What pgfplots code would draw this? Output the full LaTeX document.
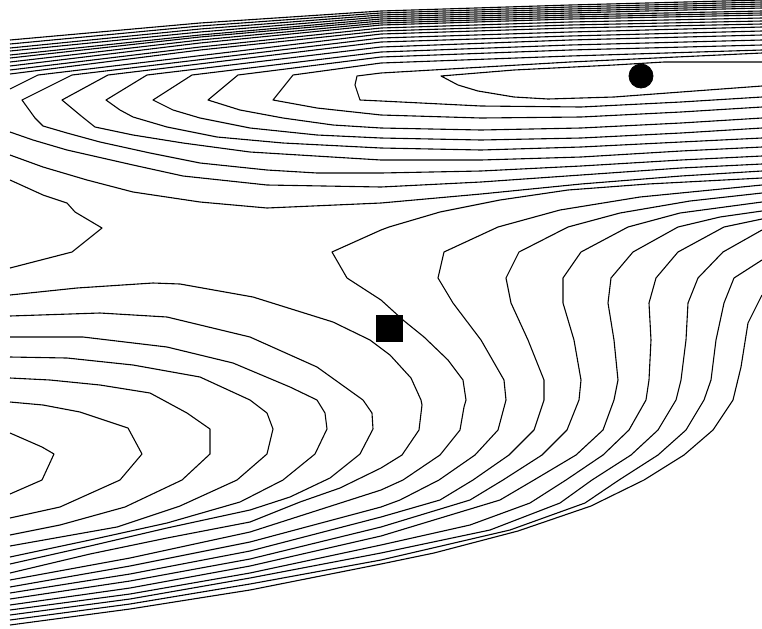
\documentclass[border=0pt]{standalone}
\usepackage{pgfplots}
\pgfplotsset{compat=1.18}
\begin{document}
\begin{tikzpicture}
\begin{axis}[width=381pt,height=314pt,scale only axis,
  xmin=0,xmax=762,ymin=0,ymax=628,y dir=reverse,hide axis,clip=true,
  cl/.style={black,line width=0.55pt,mark=none,line join=round}]
% ---- family A (around the circle) ----
\addplot[cl] coordinates {(762,62)(664,62)(614,65)(514,70)(441,76)(458,85)(478,91)(514,97)(548,99)(614,97)(681,92)(762,86)};
\addplot[cl] coordinates {(762,53)(570,62)(381,73)(357,76)(355,85)(360,100)(381,101)(481,106)(581,107)(681,102)(762,97)};
\addplot[cl] coordinates {(762,50)(570,56)(381,63)(293,75)(273,100)(317,108)(381,115)(481,118)(581,117)(681,112)(762,107)};
\addplot[cl] coordinates {(762,45)(570,50)(381,57)(238,75)(208,100)(240,110)(283,118)(333,125)(381,128)(481,130)(581,128)(681,123)(762,118)};
\addplot[cl] coordinates {(762,40)(570,45)(381,52)(192,75)(153,100)(173,110)(200,118)(250,128)(317,135)(381,138)(481,140)(581,138)(681,133)(762,128)};
\addplot[cl] coordinates {(762,35)(570,40)(381,47)(147,75)(106,100)(120,110)(133,117)(167,127)(217,137)(283,143)(381,148)(481,150)(581,147)(681,142)(762,138)};
\addplot[cl] coordinates {(762,31)(570,36)(381,42)(108,75)(62,100)(80,115)(95,127)(133,135)(183,143)(250,152)(381,160)(481,160)(581,157)(681,151)(762,147)};
\addplot[cl] coordinates {(762,27)(570,32)(381,38)(72,75)(22,100)(35,118)(43,126)(67,133)(100,142)(150,153)(200,163)(267,170)(317,173)(381,173)(481,171)(581,166)(681,160)(762,156)};
\addplot[cl] coordinates {(762,24)(570,28)(381,34)(38,75)(10,89)};
% ---- top band ----
\addplot[cl] coordinates {(10,74)(200,50)(381,31)(570,25)(762,21)};
\addplot[cl] coordinates {(10,70)(200,47)(381,28)(570,22)(762,18)};
\addplot[cl] coordinates {(10,66)(200,43)(381,25)(570,19)(762,15)};
\addplot[cl] coordinates {(10,62)(200,40)(381,23)(570,17)(762,13)};
\addplot[cl] coordinates {(10,58)(200,37)(381,21)(570,15)(762,11)};
\addplot[cl] coordinates {(10,55)(200,35)(381,19)(570,13)(762,8)};
\addplot[cl] coordinates {(10,51)(200,32)(381,17)(570,11)(762,6)};
\addplot[cl] coordinates {(10,48)(200,29)(381,15)(570,9)(762,4)};
\addplot[cl] coordinates {(10,44)(200,26)(381,13)(570,7)(762,2)};
\addplot[cl] coordinates {(10,40)(200,23)(381,11)(570,5)(762,0)};
% ---- A10, A11, saddle ----
\addplot[cl] coordinates {(10,132)(33,140)(67,150)(133,165)(183,176)(267,185)(381,187)(481,182)(581,175)(681,168)(762,164)};
\addplot[cl] coordinates {(10,155)(43,167)(87,180)(133,192)(200,202)(267,208)(381,203)(481,194)(581,184)(681,176)(762,171)};
\addplot[cl] coordinates {(10,180)(43,195)(67,203)(75,212)(102,228)(72,252)(10,268)};
% ---- family B (left hill) ----
\addplot[cl] coordinates {(10,433)(42,447)(54,454)(42,480)(10,494)};
\addplot[cl] coordinates {(10,402)(43,405)(80,412)(128,428)(142,454)(120,480)(60,507)(10,518)};
\addplot[cl] coordinates {(10,378)(50,380)(100,385)(150,393)(163,400)(187,413)(210,429)(210,454)(182,480)(125,507)(60,525)(10,535)};
\addplot[cl] coordinates {(10,357)(67,358)(133,365)(200,377)(250,400)(267,413)(273,429)(267,454)(237,480)(180,506)(117,527)(10,546)};
\addplot[cl] coordinates {(10,337)(83,337)(167,347)(233,363)(290,387)(317,400)(325,413)(327,429)(315,454)(283,480)(240,502)(167,523)(90,540)(10,557)};
\addplot[cl] coordinates {(10,316)(100,313)(167,317)(250,337)(317,367)(363,400)(372,413)(373,429)(360,454)(330,478)(290,497)(250,510)(167,528)(90,546)(10,564)};
\addplot[cl] coordinates {(10,295)(77,288)(153,283)(180,284)(253,297)(333,322)(370,340)(390,355)(411,378)(421,400)(422,405)(419,430)(402,455)(381,468)(340,488)(300,502)(250,522)(167,538)(90,554)(10,573)};
% ---- family R (right valley) ----
\addplot[cl] coordinates {(762,178)(648,184)(568,190)(500,200)(440,212)(389,227)(381,230)(332,252)(347,278)(381,300)(403,320)(424,337)(448,360)(463,380)(466,400)(464,407)(460,430)(440,455)(403,480)(381,490)(250,532)(130,558)(10,580)};
\addplot[cl] coordinates {(762,185)(640,197)(560,210)(498,227)(444,252)(438,278)(453,303)(481,340)(504,380)(506,400)(498,430)(475,455)(439,480)(400,500)(381,507)(250,542)(130,566)(10,587)};
\addplot[cl] coordinates {(762,193)(690,201)(620,213)(568,227)(519,252)(506,278)(511,303)(528,340)(544,380)(544,400)(534,430)(509,455)(473,480)(440,500)(381,517)(250,551)(130,574)(10,593)};
\addplot[cl] coordinates {(762,202)(680,213)(628,227)(581,252)(563,278)(563,303)(574,340)(581,380)(579,400)(567,430)(542,455)(503,480)(470,500)(381,527)(250,559)(130,581)(10,599)};
\addplot[cl] coordinates {(762,211)(720,217)(678,227)(633,252)(611,278)(608,303)(614,340)(618,380)(614,400)(603,430)(576,455)(534,480)(500,500)(381,536)(250,566)(130,588)(10,605)};
\addplot[cl] coordinates {(762,219)(724,227)(678,252)(656,278)(649,303)(651,340)(649,380)(646,400)(629,430)(603,455)(566,480)(530,503)(470,525)(381,545)(250,573)(130,594)(10,610)};
\addplot[cl] coordinates {(762,230)(723,252)(698,278)(688,303)(686,340)(681,380)(676,400)(658,430)(631,455)(592,480)(560,503)(490,530)(381,553)(250,578)(130,599)(10,615)};
\addplot[cl] coordinates {(762,260)(734,278)(724,303)(716,340)(711,380)(704,400)(686,430)(658,455)(619,480)(585,503)(510,530)(381,560)(250,584)(130,604)(10,620)};
\addplot[cl] coordinates {(762,295)(748,323)(741,367)(733,400)(713,430)(684,455)(644,480)(591,506)(518,531)(434,553)(381,564)(250,590)(130,609)(10,625)};
% ---- markers ----
\addplot[only marks,mark=*,mark size=6pt,black] coordinates {(641,76)};
\addplot[only marks,mark=square*,mark size=6.5pt,black] coordinates {(389,328)};
\path (rel axis cs:0,0) rectangle (rel axis cs:1,1);
\end{axis}
\end{tikzpicture}
\end{document}
